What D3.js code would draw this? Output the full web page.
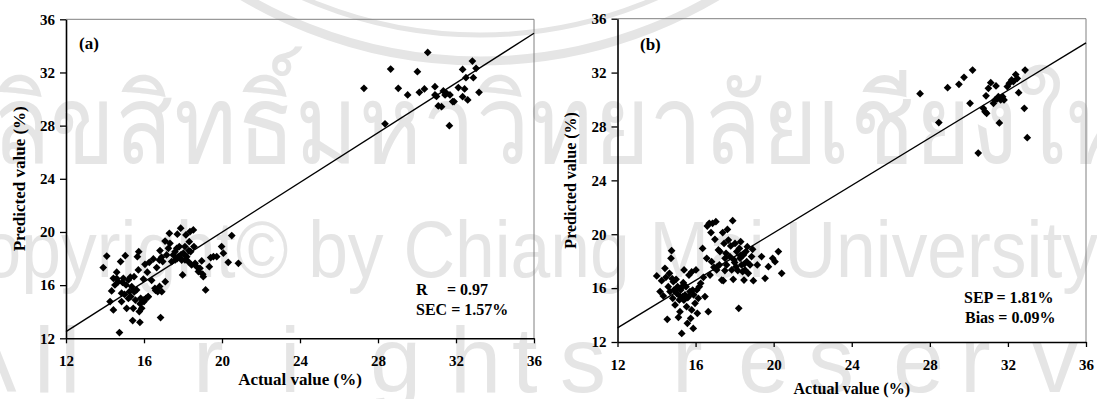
<!DOCTYPE html>
<html>
<head>
<meta charset="utf-8">
<script src="https://cdn.jsdelivr.net/npm/d3@7"></script>
<style>
  html, body { margin: 0; padding: 0; background: #fff; }
  svg { display: block; }
</style>
</head>
<body>
<svg id="chart" width="1097" height="399"></svg>
<script>
// axis ticks shared by both panels
const xTicks = [12, 16, 20, 24, 28, 32, 36]
const yTicks = [12, 16, 20, 24, 28, 32, 36]

// (a) calibration set: [actual, predicted]
const calPoints = [
  [13.91,17.32],[14.09,18.19],[14.74,12.43],[14.34,15.56],[14.26,14.76],[14.43,14.13],[14.43,16.51],
  [14.51,16.01],[14.60,16.97],[14.80,17.77],[14.68,16.26],[14.85,15.39],[14.85,14.76],[14.94,16.51],
  [15.04,18.22],[15.08,16.01],[15.11,14.26],[15.20,16.39],[15.25,15.51],[15.32,15.14],[15.37,15.89],
  [15.42,13.33],[15.45,14.26],[15.49,16.64],[15.56,14.88],[15.62,15.64],[15.66,18.14],[15.71,17.14],
  [15.73,18.52],[15.76,14.01],[15.79,13.20],[15.83,15.01],[15.88,14.26],[15.97,16.46],[16.00,14.76],
  [16.05,17.57],[16.10,15.01],[16.17,16.97],[16.22,15.14],[16.27,17.72],[16.39,16.36],[16.48,17.97],
  [16.56,15.76],[16.65,17.32],[16.70,15.51],[16.79,17.89],[16.82,18.60],[16.85,13.56],[16.91,15.51],
  [16.96,17.77],[17.08,19.32],[17.09,16.26],[17.16,18.27],[17.25,18.77],[17.30,19.90],[17.33,19.15],
  [17.42,17.77],[17.50,18.27],[17.59,18.52],[17.68,18.77],[17.71,19.83],[17.76,18.14],[17.81,18.90],
  [17.88,20.28],[17.93,17.89],[17.98,16.77],[18.02,18.40],[18.10,18.90],[18.15,19.78],[18.19,18.14],
  [18.27,17.77],[18.32,19.27],[18.36,20.03],[18.39,18.52],[18.44,17.52],[18.53,20.15],[18.56,18.90],
  [18.62,17.64],[18.70,17.39],[18.79,17.02],[18.87,17.27],[18.96,17.82],[19.01,16.82],[19.04,16.64],
  [19.16,15.64],[19.35,17.39],[19.42,18.07],[19.56,18.14],[19.73,18.14],[19.98,18.90],[20.07,18.40],
  [20.32,17.72],[20.50,19.73],[20.84,17.64],
  [14.60,16.50],[15.00,15.30],[15.20,15.00],[15.50,15.50],[15.30,16.60],[14.90,16.20],[15.80,14.60],
  [16.00,14.90],[16.20,15.10],[17.70,18.00],[17.90,18.30],[18.30,18.60],[18.10,17.90],[17.60,17.90],
  [16.90,18.10],[16.80,15.90],[16.60,15.60],
  [27.28,30.81],[28.36,28.14],[28.65,32.26],[29.04,30.81],[29.52,30.31],[30.02,32.06],[30.12,30.51],
  [30.38,30.76],[30.55,33.51],[30.92,30.93],[30.92,30.31],[31.09,29.48],[31.26,29.43],[31.35,30.61],
  [31.44,30.31],[31.52,30.43],[31.66,28.00],[31.69,30.31],[31.83,29.81],[31.90,29.81],[32.12,30.86],
  [32.34,32.23],[32.34,30.18],[32.44,30.76],[32.51,31.61],[32.60,29.93],[32.84,32.86],[32.89,31.61],
  [33.03,32.31],[33.18,30.51],[31.00,30.20]
]
const calFit = [[12, 12.5], [36, 34.95]]

// (b) prediction set: [actual, predicted]
const predPoints = [
  [14.01,16.90],[14.18,15.74],[14.26,16.55],[14.35,15.42],[14.43,17.47],[14.48,16.80],[14.55,13.68],
  [14.60,16.11],[14.66,17.10],[14.69,15.74],[14.74,18.21],[14.77,18.78],[14.83,15.24],[14.86,16.48],
  [14.89,15.86],[14.95,14.75],[15.00,16.65],[15.03,15.61],[15.08,16.11],[15.12,13.83],[15.17,15.12],
  [15.20,14.25],[15.24,15.86],[15.29,12.64],[15.34,15.37],[15.37,16.40],[15.41,17.35],[15.46,15.49],
  [15.51,16.11],[15.54,14.62],[15.58,13.39],[15.63,15.37],[15.66,16.97],[15.71,15.74],[15.75,13.76],
  [15.80,14.38],[15.85,15.86],[15.88,13.01],[15.97,14.87],[16.02,17.35],[16.06,15.86],[16.09,14.13],
  [16.14,15.24],[16.19,16.11],[16.26,16.36],[16.36,18.95],[16.40,16.80],[16.48,15.37],[16.57,18.21],
  [16.60,20.61],[16.65,14.25],[16.70,20.81],[16.74,16.97],[16.79,20.12],[16.82,17.96],[16.87,20.81],
  [16.94,17.54],[16.99,19.62],[17.04,20.93],[17.08,17.35],[17.11,17.59],[17.17,18.83],[17.22,17.72],
  [17.25,18.71],[17.34,16.60],[17.39,20.12],[17.42,16.55],[17.46,19.32],[17.51,18.21],[17.56,18.58],
  [17.59,17.72],[17.63,20.36],[17.68,19.57],[17.76,18.34],[17.80,19.13],[17.85,17.35],[17.90,21.01],
  [17.93,16.65],[17.97,18.09],[18.02,19.32],[18.07,17.59],[18.11,18.71],[18.16,17.30],[18.21,14.50],
  [18.24,18.95],[18.28,18.21],[18.31,19.45],[18.36,17.72],[18.41,17.22],[18.45,18.46],[18.48,16.60],
  [18.53,17.35],[18.58,18.71],[18.62,17.96],[18.65,19.08],[18.70,17.10],[18.79,17.72],[18.87,18.34],
  [18.92,18.88],[18.96,16.55],[19.16,17.72],[19.38,18.34],[19.56,16.73],[19.73,17.59],[19.95,18.21],
  [20.07,17.96],[20.24,18.71],[20.41,17.10],
  [15.20,15.40],[15.40,15.10],[15.60,15.30],[15.00,15.90],[15.90,15.50],[15.30,16.10],[17.50,17.30],
  [18.00,17.90],[18.30,18.40],[18.50,17.80],[15.80,17.20],[14.80,16.70],
  [27.50,30.43],[28.46,28.29],[28.91,30.88],[29.49,31.13],[29.75,31.65],[30.19,32.19],[30.06,29.72],
  [30.48,26.03],[30.74,29.35],[30.83,29.10],[30.91,28.98],[30.88,30.28],[31.00,30.83],[31.12,31.25],
  [31.39,31.01],[31.26,29.72],[31.34,29.97],[31.56,28.26],[31.51,30.21],[31.63,29.97],[31.73,30.21],
  [31.80,29.97],[31.97,30.96],[32.07,31.20],[32.19,31.45],[32.28,31.33],[32.40,31.85],[32.48,31.57],
  [32.55,30.51],[32.88,32.19],[32.84,29.35],[32.99,27.17],[31.45,30.05]
]
const predFit = [[12, 13.05], [36, 34.2]]

const panelTags = ['(a)', '(b)']
const calStats = ['R', '= 0.97', 'SEC = 1.57%']
const predStats = ['SEP = 1.81%', 'Bias = 0.09%']
const xTitle = 'Actual value (%)'
const yTitle = 'Predicted value (%)'

// watermark lines of the source document
const markLines = ['ลิขสิทธิ์มหาวิทยาลัยเชียงใหม่', 'Copyright© by Chiang Mai University', 'All rights reserved']
// left edge of each glyph of the spaced-out last watermark line
const markLetterX = [-45, 34, 60, 110, 193, 280, 370, 450, 512, 560, 612, 672, 738, 808, 893, 960, 1032, 1100]

const SERIF = "'Liberation Serif', 'Times New Roman', serif"
const MARK = '#e5e5e5'
const svg = d3.select('#chart')

// --- watermark, drawn first so the plots sit on top of it
const mark = svg.append('g').attr('class', 'watermark').attr('fill', MARK)
mark.append('circle').attr('cx', 480).attr('cy', -405).attr('r', 466)
  .attr('fill', 'none').attr('stroke', MARK).attr('stroke-width', 9)
mark.append('circle').attr('cx', 480).attr('cy', -405).attr('r', 440)
  .attr('fill', 'none').attr('stroke', MARK).attr('stroke-width', 5)
mark.append('text').attr('x', -8).attr('y', 163)
  .attr('font-family', "'Noto Sans', 'DejaVu Sans', sans-serif").attr('font-size', 110)
  .attr('textLength', 1200).attr('lengthAdjust', 'spacingAndGlyphs')
  .text(markLines[0])
mark.append('text').attr('x', -70).attr('y', 277)
  .attr('font-family', "'Liberation Sans', sans-serif").attr('font-size', 80)
  .attr('textLength', 1168).attr('lengthAdjust', 'spacingAndGlyphs')
  .text(markLines[1])
mark.append('text').attr('x', markLetterX.join(' ')).attr('y', 392)
  .attr('font-family', "'Liberation Sans', sans-serif").attr('font-size', 92)
  .text(markLines[2])

const PANELS = [
  { box: { l: 66, r: 534, t: 19.3, b: 338.3 }, points: calPoints, fit: calFit, tag: panelTags[0],
    tagPos: [79, 49], xTitleY: 385, yTitleX: 25, titleSize: 17,
    stats: [[calStats[0], 416, 295], [calStats[1], 447, 295], [calStats[2], 416, 315]] },
  { box: { l: 617.5, r: 1086, t: 18.7, b: 342 }, points: predPoints, fit: predFit, tag: panelTags[1],
    tagPos: [640, 50], xTitleY: 394, yTitleX: 576, titleSize: 16,
    stats: [[predStats[0], 964, 303], [predStats[1], 965, 323]] },
]

const diamond = d3.symbol().type(d3.symbolSquare).size(30)

for (const p of PANELS) {
  const { l, r, t, b } = p.box
  const x = d3.scaleLinear().domain([12, 36]).range([l, r])
  const y = d3.scaleLinear().domain([12, 36]).range([b, t])
  const g = svg.append('g')

  // grey top/right frame
  g.append('path')
    .attr('d', `M${l},${t}H${r}V${b}`)
    .attr('fill', 'none').attr('stroke', '#808080').attr('stroke-width', 1)

  const xAxis = g.append('g').attr('transform', `translate(0,${b})`)
    .call(d3.axisBottom(x).tickValues(xTicks).tickSize(5).tickPadding(12).tickSizeOuter(0))
  const yAxis = g.append('g').attr('transform', `translate(${l},0)`)
    .call(d3.axisLeft(y).tickValues(yTicks).tickSize(6).tickPadding(5).tickSizeOuter(0))
  for (const ax of [xAxis, yAxis]) {
    ax.select('.domain').attr('stroke', '#000').attr('stroke-width', 1.6)
    ax.selectAll('.tick line').attr('stroke', '#000').attr('stroke-width', 1.3)
    ax.selectAll('.tick text')
      .attr('fill', '#000').attr('font-family', SERIF)
      .attr('font-size', 15).attr('font-weight', 'bold')
  }

  // fitted line
  g.append('path')
    .datum(p.fit)
    .attr('d', d3.line().x(d => x(d[0])).y(d => y(d[1])))
    .attr('fill', 'none').attr('stroke', '#000').attr('stroke-width', 1.4)

  // samples
  g.selectAll('.pt')
    .data(p.points)
    .join('path')
    .attr('class', 'pt')
    .attr('d', diamond)
    .attr('transform', d => `translate(${x(d[0])},${y(d[1])}) rotate(45)`)
    .attr('fill', '#000')

  const txt = (s, tx, ty, size) => g.append('text')
    .attr('x', tx).attr('y', ty)
    .attr('font-family', SERIF).attr('font-weight', 'bold').attr('font-size', size)
    .attr('fill', '#000').text(s)

  txt(p.tag, p.tagPos[0], p.tagPos[1], 17)
  for (const [s, sx, sy] of p.stats) txt(s, sx, sy, 16)

  txt(xTitle, (l + r) / 2, p.xTitleY, p.titleSize).attr('text-anchor', 'middle')
  g.append('text')
    .attr('transform', `translate(${p.yTitleX},${(t + b) / 2}) rotate(-90)`)
    .attr('text-anchor', 'middle')
    .attr('font-family', SERIF).attr('font-weight', 'bold').attr('font-size', p.titleSize)
    .attr('fill', '#000').text(yTitle)
}
</script>
</body>
</html>
